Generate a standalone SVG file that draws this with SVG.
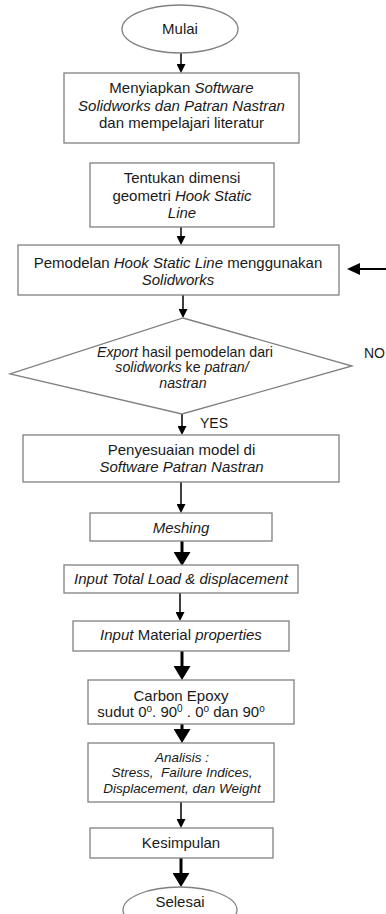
<svg xmlns="http://www.w3.org/2000/svg" width="386" height="914" viewBox="0 0 386 914">
<defs>
<marker id="ah" markerUnits="userSpaceOnUse" markerWidth="9" markerHeight="9" refX="0" refY="4.5" orient="auto" viewBox="0 0 9 9"><path d="M0,0 L9,4.5 L0,9 Z" fill="#000"/></marker>
<marker id="ahb" markerUnits="userSpaceOnUse" markerWidth="14" markerHeight="17" refX="0" refY="8.5" orient="auto" viewBox="0 0 14 17"><path d="M0,0 L14,8.5 L0,17 Z" fill="#000"/></marker>
<marker id="ahm" markerUnits="userSpaceOnUse" markerWidth="13" markerHeight="12" refX="0" refY="6" orient="auto" viewBox="0 0 13 12"><path d="M0,0 L13,6 L0,12 Z" fill="#000"/></marker>
</defs>
<style>
.box{fill:#fff;stroke:#808080;stroke-width:1.3}
text{font-family:"Liberation Sans",Arial,sans-serif;font-size:15px;fill:#1a1a1a;text-anchor:middle}
.i{font-style:italic}
.sm{font-size:13.5px}
.md{font-size:14.2px}
.c{stroke:#000;stroke-width:1.5;fill:none}
.t{stroke:#000;stroke-width:3;fill:none}
.sup{font-size:10px}
</style>
<rect width="386" height="914" fill="#fff"/>

<g id="connectors">
<line class="c" x1="181" y1="53" x2="181" y2="64" marker-end="url(#ah)"/>
<line class="c" x1="181" y1="227" x2="181" y2="236" marker-end="url(#ah)"/>
<line class="c" x1="183" y1="295" x2="183" y2="309" marker-end="url(#ah)"/>
<line class="c" x1="182" y1="414" x2="182" y2="426" marker-end="url(#ah)"/>
<line class="c" x1="181" y1="482" x2="181" y2="504" marker-end="url(#ah)"/>
<line class="t" x1="182" y1="541" x2="182" y2="552" marker-end="url(#ahb)"/>
<line class="c" x1="180" y1="593" x2="180" y2="612" marker-end="url(#ah)"/>
<line class="t" x1="182" y1="651" x2="182" y2="666" marker-end="url(#ahb)"/>
<line class="t" x1="182" y1="724" x2="182" y2="729" marker-end="url(#ahb)"/>
<line class="c" x1="181" y1="802" x2="181" y2="819" marker-end="url(#ah)"/>
<line class="t" x1="181" y1="858" x2="181" y2="873" marker-end="url(#ahb)"/>
<line stroke="#000" stroke-width="2" x1="386" y1="269" x2="360" y2="269" marker-end="url(#ahm)"/>
<text x="364" y="358" style="text-anchor:start;font-size:14px">NO</text>
<text x="200" y="428" style="text-anchor:start;font-size:14px">YES</text>
</g>

<g id="mulai">
<ellipse cx="180" cy="29" rx="58" ry="24" class="box"/>
<text x="180" y="34">Mulai</text>
</g>

<g id="menyiapkan">
<rect x="64" y="73" width="235" height="70" class="box"/>
<text x="181.5" y="93">Menyiapkan <tspan class="i">Software</tspan></text>
<text x="181.5" y="111" class="i">Solidworks dan Patran Nastran</text>
<text x="181.5" y="128">dan mempelajari literatur</text>
</g>

<g id="tentukan">
<rect x="90" y="163" width="184" height="64" class="box"/>
<text x="182" y="183">Tentukan dimensi</text>
<text x="182" y="201">geometri <tspan class="i">Hook Static</tspan></text>
<text x="182" y="218" class="i">Line</text>
</g>

<g id="pemodelan">
<rect x="18" y="245" width="321" height="50" class="box"/>
<text x="178" y="268">Pemodelan <tspan class="i">Hook Static Line</tspan> menggunakan</text>
<text x="178" y="285" class="i">Solidworks</text>
</g>

<g id="export">
<polygon points="183,318 352,366 182,414 10,374" class="box"/>
<text x="185" y="357" class="md"><tspan class="i">Export</tspan> hasil pemodelan dari</text>
<text x="182" y="372" class="md"><tspan class="i">solidworks</tspan> ke <tspan class="i">patran/</tspan></text>
<text x="183" y="388" class="md i">nastran</text>
</g>

<g id="penyesuaian">
<rect x="23" y="435" width="316" height="47" class="box"/>
<text x="181.5" y="455">Penyesuaian model di</text>
<text x="181.5" y="472" class="i">Software Patran Nastran</text>
</g>

<g id="meshing">
<rect x="90" y="513" width="182" height="28" class="box"/>
<text x="181" y="533" class="i">Meshing</text>
</g>

<g id="load">
<rect x="64" y="565" width="234" height="28" class="box"/>
<text x="181" y="584" class="i">Input Total Load &amp; displacement</text>
</g>

<g id="material">
<rect x="73" y="621" width="216" height="30" class="box"/>
<text x="181" y="640"><tspan class="i">Input</tspan> Material <tspan class="i">properties</tspan></text>
</g>

<g id="carbon">
<rect x="88" y="680" width="206" height="44" class="box"/>
<text x="181" y="701">Carbon Epoxy</text>
<text x="181" y="717">sudut 0<tspan class="sup" dy="-5">o</tspan><tspan dy="5">. 90</tspan><tspan class="sup" dy="-5">0</tspan><tspan dy="5"> . 0</tspan><tspan class="sup" dy="-5">o</tspan><tspan dy="5"> dan 90</tspan><tspan class="sup" dy="-5">o</tspan></text>
</g>

<g id="analisis">
<rect x="88" y="743" width="186" height="59" class="box"/>
<text x="182" y="762" class="sm i">Analisis :</text>
<text x="182" y="777" class="sm i" xml:space="preserve">Stress,  Failure Indices,</text>
<text x="182" y="793" class="sm i">Displacement, dan Weight</text>
</g>

<g id="kesimpulan">
<rect x="90" y="828" width="183" height="30" class="box"/>
<text x="181" y="848">Kesimpulan</text>
</g>

<g id="selesai">
<ellipse cx="180" cy="910" rx="57" ry="23" class="box"/>
<text x="180" y="907">Selesai</text>
</g>
</svg>
